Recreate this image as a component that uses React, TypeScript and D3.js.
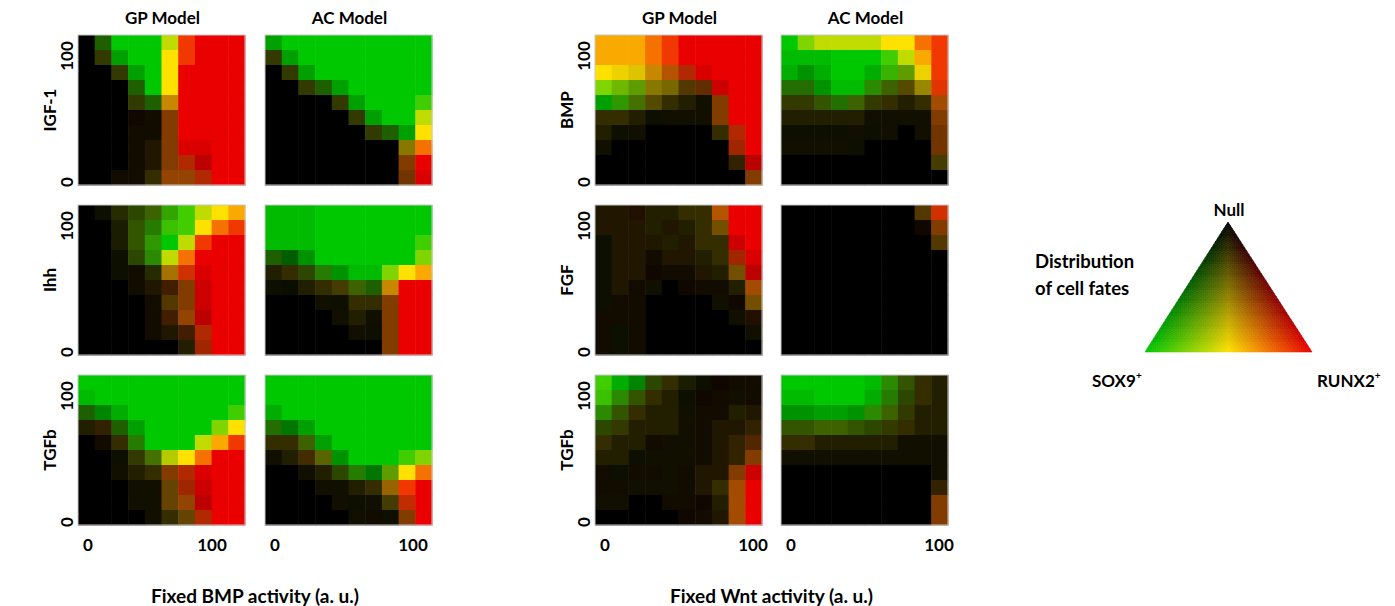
import React from "react"
import * as d3 from "d3"

// each cell "bh": b = hex 0-f, share of cells with a fate (b/15); h = 0-8, RUNX2 part of that share (h/8)
// rows go from top (100) to bottom (0), columns from 0 to 100
const gpIgf1 = [
  "00 71 f0 f0 f0 f3 f7 f8 f8 f8",
  "00 43 c0 f0 f0 f4 f7 f8 f8 f8",
  "00 00 43 c0 f0 f4 f8 f8 f8 f8",
  "00 00 00 71 f0 f4 f8 f8 f8 f8",
  "00 00 00 43 71 c5 f8 f8 f8 f8",
  "00 00 00 16 15 86 f8 f8 f8 f8",
  "00 00 00 15 15 86 f8 f8 f8 f8",
  "00 00 00 15 25 86 e8 e8 f8 f8",
  "00 00 00 15 25 86 b7 c8 f8 f8",
  "00 00 15 15 34 96 96 b7 f8 f8",
]
const acIgf1 = [
  "c0 f0 f0 f0 f0 f0 f0 f0 f0 f0",
  "43 c0 f0 f0 f0 f0 f0 f0 f0 f0",
  "00 43 c0 f0 f0 f0 f0 f0 f0 f0",
  "00 00 43 71 c0 f0 f0 f0 f0 f0",
  "00 00 00 00 43 c0 f0 f0 f0 f1",
  "00 00 00 00 00 43 c0 f0 f0 f3",
  "00 00 00 00 00 00 43 71 c0 f4",
  "00 00 00 00 00 00 00 00 84 f6",
  "00 00 00 00 00 00 00 00 86 f8",
  "00 00 00 00 00 00 00 00 76 e8",
]
const gpIhh = [
  "00 13 33 52 72 c1 f1 f3 f4 f5",
  "00 00 23 62 91 e1 f1 f4 f6 f7",
  "00 00 23 62 b1 f0 f3 f7 f8 f8",
  "00 00 13 52 a1 f3 f6 f8 f8 f8",
  "00 00 13 15 33 a5 d7 e8 f8 f8",
  "00 00 00 15 25 46 86 d8 f8 f8",
  "00 00 00 00 15 55 86 d8 f8 f8",
  "00 00 00 00 15 46 96 c8 f8 f8",
  "00 00 00 00 15 25 46 b7 f8 f8",
  "00 00 00 00 00 00 24 a7 f8 f8",
]
const acIhh = [
  "e0 e0 e0 f0 f0 f0 f0 f0 f0 f0",
  "e0 e0 e0 f0 f0 f0 f0 f0 f0 f0",
  "e0 e0 e0 f0 f0 f0 f0 f0 f0 f1",
  "71 70 b0 f0 f0 f0 f0 f0 f0 f2",
  "24 34 52 91 b0 e0 e0 f2 f4 f5",
  "13 12 24 34 44 72 71 c5 f8 f8",
  "00 00 00 14 13 34 34 86 f8 f8",
  "00 00 00 00 14 24 14 86 f8 f8",
  "00 00 00 00 00 14 13 86 f8 f8",
  "00 00 00 00 00 00 00 86 f8 f8",
]
const gpTgfbBmp = [
  "f0 f0 f0 f0 f0 f0 f0 f0 f0 f0",
  "e0 f0 f0 f0 f0 f0 f0 f0 f0 f0",
  "71 a0 d0 f0 f0 f0 f0 f0 f0 f1",
  "24 35 71 c0 f0 f0 f0 f0 f2 f4",
  "00 15 34 91 f0 f0 f0 f3 f5 f7",
  "00 00 13 43 82 e3 f4 f6 f8 f8",
  "00 00 14 24 34 86 b7 e8 f8 f8",
  "00 00 00 14 14 65 a7 d8 f8 f8",
  "00 00 00 14 14 65 96 c8 f8 f8",
  "00 00 00 00 14 34 65 b7 f8 f8",
]
const acTgfbBmp = [
  "f0 f0 f0 f0 f0 f0 f0 f0 f0 f0",
  "f0 f0 f0 f0 f0 f0 f0 f0 f0 f0",
  "d0 f0 f0 f0 f0 f0 f0 f0 f0 f0",
  "81 90 c0 f0 f0 f0 f0 f0 f0 f0",
  "34 34 72 c0 f0 f0 f0 f0 f0 f0",
  "14 24 45 73 b0 f0 f0 f0 f1 f2",
  "00 00 14 24 52 91 90 b2 f4 f6",
  "00 00 00 14 14 24 34 95 f7 f8",
  "00 00 00 00 14 13 14 44 c7 f8",
  "00 00 00 00 00 14 15 13 86 f8",
]
const gpBmp = [
  "f5 f5 f5 f6 f7 f8 f8 f8 f8 f8",
  "f5 f5 f5 f6 f7 f8 f8 f8 f8 f8",
  "f4 e4 d4 c5 b6 b7 e8 f8 f8 f8",
  "f2 d2 b2 84 74 55 66 d8 f8 f8",
  "c0 b1 82 54 34 24 14 86 f8 f8",
  "34 34 24 13 14 14 14 86 f8 f8",
  "24 13 14 00 00 00 00 34 b7 f8",
  "14 00 00 00 00 00 00 00 a7 f8",
  "00 00 00 00 00 00 00 00 35 c8",
  "00 00 00 00 00 00 00 00 00 86",
]
const acBmp = [
  "f0 f2 f3 f3 f3 f3 f4 f4 f6 f7",
  "e0 e0 e0 f0 f0 f0 f1 f3 f5 f7",
  "d0 b0 d0 f0 f0 d0 d1 b2 e4 f7",
  "81 81 b0 e0 e0 a1 72 54 94 e7",
  "43 43 62 81 72 43 34 24 34 a6",
  "24 24 24 24 24 14 14 14 14 86",
  "13 13 13 13 14 13 14 00 14 76",
  "14 14 14 14 13 00 00 00 00 76",
  "00 00 00 00 00 00 00 00 00 44",
  "00 00 00 00 00 00 00 00 00 00",
]
const gpFgf = [
  "25 25 26 24 24 34 34 b6 f8 f8",
  "25 25 25 24 25 24 34 75 f8 f8",
  "13 25 25 25 24 25 34 34 d8 f8",
  "13 25 25 15 25 25 24 34 a7 e8",
  "13 25 25 16 15 15 25 24 75 c8",
  "13 25 15 14 00 16 15 15 24 a6",
  "13 15 15 00 00 00 00 14 16 75",
  "15 15 15 00 00 00 00 00 14 26",
  "15 13 15 00 00 00 00 00 00 14",
  "15 13 15 00 00 00 00 00 00 00",
]
const acFgf = [
  "00 00 00 00 00 00 00 00 55 d7",
  "00 00 00 00 00 00 00 00 16 86",
  "00 00 00 00 00 00 00 00 00 55",
  "00 00 00 00 00 00 00 00 00 00",
  "00 00 00 00 00 00 00 00 00 00",
  "00 00 00 00 00 00 00 00 00 00",
  "00 00 00 00 00 00 00 00 00 00",
  "00 00 00 00 00 00 00 00 00 00",
  "00 00 00 00 00 00 00 00 00 00",
  "00 00 00 00 00 00 00 00 00 00",
]
const gpTgfbWnt = [
  "f1 d0 a0 52 34 23 13 16 15 15",
  "e1 a1 62 34 24 13 16 15 14 15",
  "a1 62 34 24 24 14 15 15 24 25",
  "52 43 24 24 24 14 15 25 25 35",
  "34 24 24 15 14 14 15 25 35 56",
  "24 24 13 14 14 14 15 25 35 86",
  "15 13 15 15 14 15 25 25 86 d8",
  "15 15 14 14 14 15 25 34 a6 f8",
  "14 14 00 00 15 15 16 24 a6 f8",
  "00 00 00 00 00 16 15 25 a6 f8",
]
const acTgfbWnt = [
  "f0 f0 f0 f0 f0 e0 a1 62 34 24",
  "e0 e0 f0 f0 f0 d0 91 52 34 24",
  "b0 b0 c0 c0 b0 a1 72 43 24 24",
  "62 62 72 72 62 52 43 34 24 24",
  "34 34 24 24 24 24 24 14 14 14",
  "14 14 14 14 14 14 14 14 14 14",
  "00 00 00 00 00 00 00 00 00 14",
  "00 00 00 00 00 00 00 00 00 35",
  "00 00 00 00 00 00 00 00 00 86",
  "00 00 00 00 00 00 00 00 00 86",
]

const modelNames = ["GP Model", "AC Model", "GP Model", "AC Model"]
const leftRowLabels = ["IGF-1", "Ihh", "TGFb"]
const rightRowLabels = ["BMP", "FGF", "TGFb"]
const xTicks = [0, 100]
const yTicks = [0, 100]
const xTitles = ["Fixed BMP activity (a. u.)", "Fixed Wnt activity (a. u.)"]

const panels = [
  [gpIgf1, acIgf1, gpBmp, acBmp],
  [gpIhh, acIhh, gpFgf, acFgf],
  [gpTgfbBmp, acTgfbBmp, gpTgfbWnt, acTgfbWnt],
]

const FONT = "Lato, 'Open Sans', sans-serif"
const colX = [78, 265, 595, 781]
const rowY = [35, 205, 375]
const PW = 167
const PH = 150
const xTickSpan = [124, 138, 148, 148]

function parseGrid(rows) {
  return rows.map(row => row.split(" ").map(tok => {
    const b = parseInt(tok[0], 16) / 15
    const h = +tok[1] / 8
    return { sox9: b * (1 - h), runx2: b * h }
  }))
}

function fateColor(sox9, runx2) {
  const t = sox9 + runx2
  if (t <= 0) return "rgb(0,0,0)"
  const h = runx2 / t
  const rPeak = h <= 0.5 ? 255 : 255 - 40 * (h - 0.5)
  const gPeak = h >= 0.5 ? 225 : 200 + 50 * h
  const r = Math.min(1, 2 * h) * rPeak * t
  const g = Math.min(1, 2 * (1 - h)) * gPeak * t
  return d3.rgb(r, g, 0).toString()
}

function Heatmap({ grid, x, y }) {
  const cells = parseGrid(grid)
  const xs = d3.scaleBand().domain(d3.range(10)).range([0, PW])
  const ys = d3.scaleBand().domain(d3.range(10)).range([0, PH])
  return (
    <g transform={`translate(${x},${y})`}>
      {cells.map((row, ri) => row.map((c, cj) => (
        <rect key={ri + "-" + cj} x={xs(cj)} y={ys(ri)}
          width={xs.bandwidth() + 0.5} height={ys.bandwidth() + 0.5}
          fill={fateColor(c.sox9, c.runx2)} />
      )))}
      <rect x={0} y={0} width={PW} height={PH} fill="none" stroke="#c8c8c8" strokeWidth={1} />
    </g>
  )
}

function Legend() {
  const apex = [1228, 222], left = [1145, 352], right = [1312, 352]
  const N = 40
  const pt = (i, j) => {
    // i steps toward sox9 corner, j toward runx2 corner
    const a = i / N, b = j / N, c = 1 - a - b
    return [c * apex[0] + a * left[0] + b * right[0], c * apex[1] + a * left[1] + b * right[1]]
  }
  const tris = []
  for (let i = 0; i < N; i++) {
    for (let j = 0; j < N - i; j++) {
      tris.push({ p: [pt(i, j), pt(i + 1, j), pt(i, j + 1)], s: (i + 1 / 3) / N, r: (j + 1 / 3) / N })
      if (i + j < N - 1) {
        tris.push({ p: [pt(i + 1, j), pt(i + 1, j + 1), pt(i, j + 1)], s: (i + 2 / 3) / N, r: (j + 2 / 3) / N })
      }
    }
  }
  return (
    <g>
      {tris.map((t, k) => {
        const col = fateColor(t.s, t.r)
        return <polygon key={k} points={t.p.map(d => d.join(",")).join(" ")} fill={col} stroke={col} strokeWidth={0.6} />
      })}
      <g fontFamily={FONT} fontWeight="bold" fontSize={17} fill="#000">
        <text x={1229} y={216} textAnchor="middle">Null</text>
        <text x={1035} y={268} fontSize={18.5}>Distribution</text>
        <text x={1035} y={295} fontSize={18.5}>of cell fates</text>
        <text x={1092} y={387}>SOX9<tspan fontSize={10} dy={-8}>+</tspan></text>
        <text x={1317} y={387}>RUNX2<tspan fontSize={10} dy={-8}>+</tspan></text>
      </g>
    </g>
  )
}

export default function App() {
  return (
    <svg width={1395} height={606} style={{ position: "absolute", left: 0, top: 0, background: "#fff" }}>
      {panels.map((row, ri) => row.map((grid, ci) => (
        <Heatmap key={ri + "_" + ci} grid={grid} x={colX[ci]} y={rowY[ri]} />
      )))}
      <g fontFamily={FONT} fontWeight="bold" fontSize={17} fill="#000">
        {modelNames.map((m, ci) => (
          <text key={m + ci} x={colX[ci] + PW / 2 + 1} y={24} textAnchor="middle">{m}</text>
        ))}
        {rowY.map((ry, ri) => {
          const yt = d3.scaleLinear().domain([0, 100]).range([ry + PH - 3, ry + 21])
          return [0, 2].map(ci => {
            const lx = colX[ci]
            const label = ci === 0 ? leftRowLabels[ri] : rightRowLabels[ri]
            return (
              <g key={ri + "l" + ci}>
                <text transform={`translate(${lx - 22},${ry + PH / 2}) rotate(-90)`} textAnchor="middle">{label}</text>
                {yTicks.map(v => (
                  <text key={v} transform={`translate(${lx - 5},${yt(v)}) rotate(-90)`} textAnchor="middle">{v}</text>
                ))}
              </g>
            )
          })
        })}
        {colX.map((cx, ci) => {
          const xt = d3.scaleLinear().domain([0, 100]).range([cx + 10, cx + 10 + xTickSpan[ci]])
          return xTicks.map(v => (
            <text key={ci + "x" + v} x={xt(v)} y={551} textAnchor="middle">{v}</text>
          ))
        })}
        <text x={(colX[0] + colX[1] + PW) / 2} y={603} textAnchor="middle" fontSize={19}>{xTitles[0]}</text>
        <text x={(colX[2] + colX[3] + PW) / 2} y={603} textAnchor="middle" fontSize={19}>{xTitles[1]}</text>
      </g>
      <Legend />
    </svg>
  )
}
